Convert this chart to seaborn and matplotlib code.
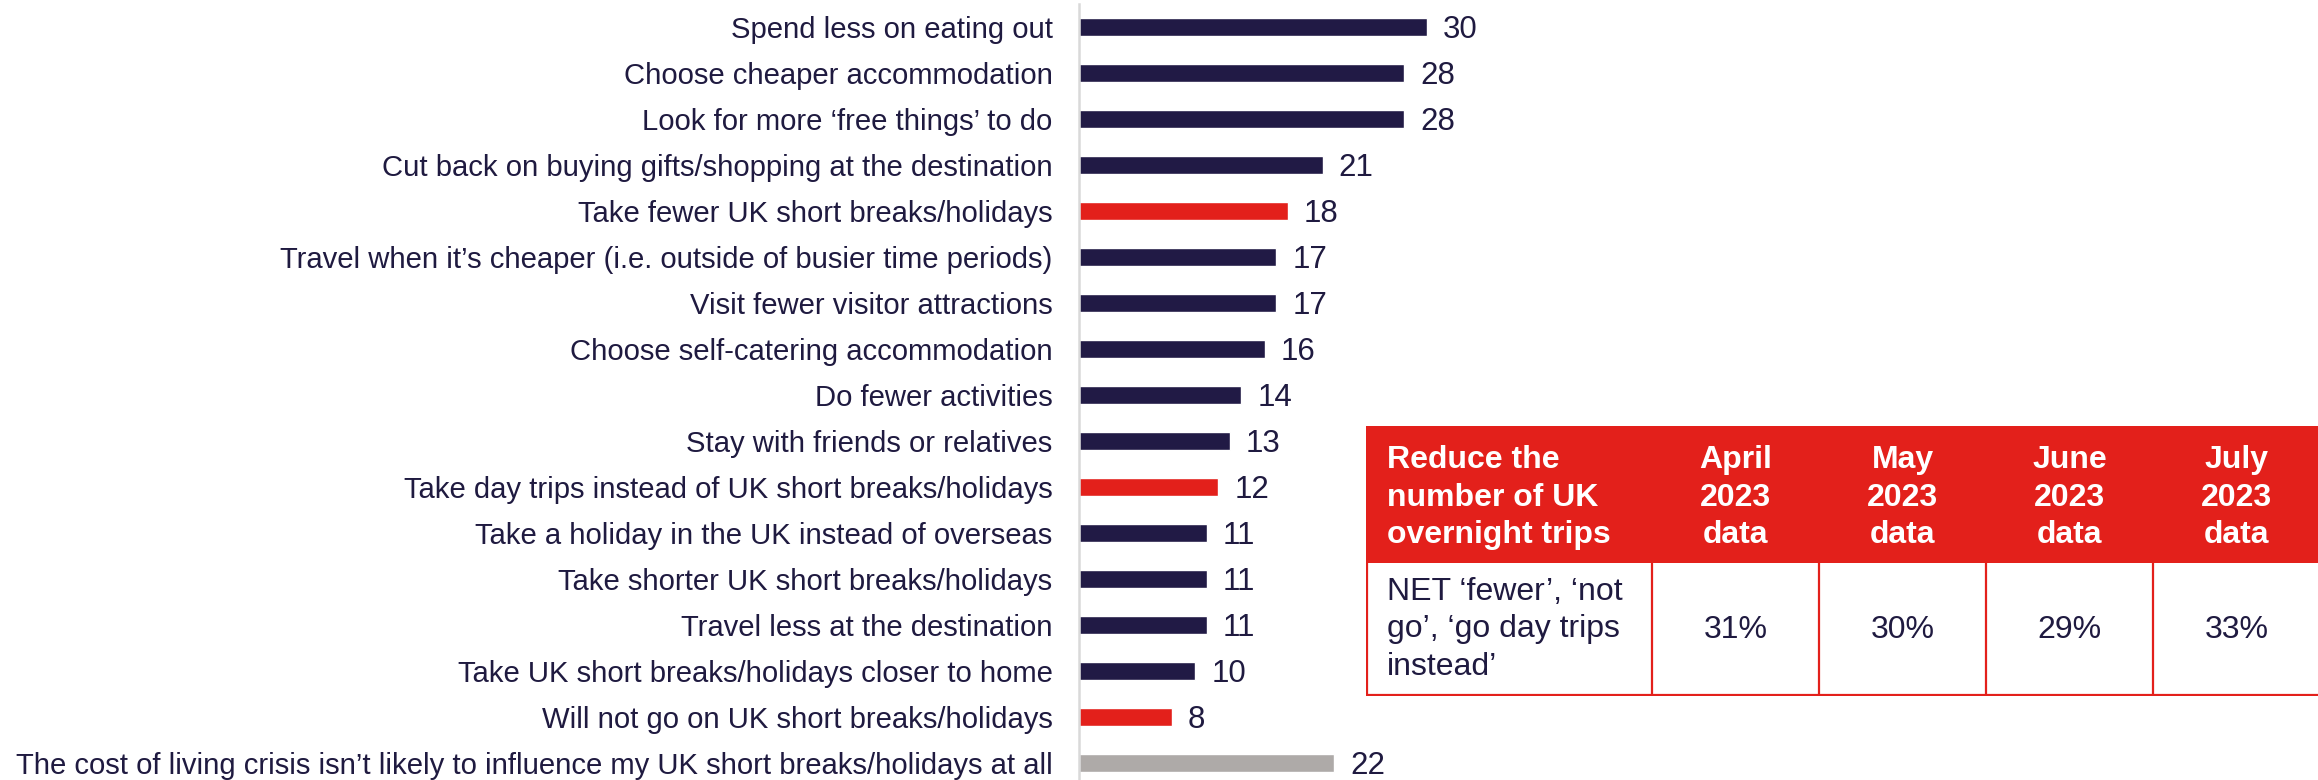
import matplotlib
matplotlib.use("Agg")
import matplotlib.pyplot as plt
import seaborn as sns
import pandas as pd
from matplotlib.patches import Rectangle

# Bar chart data (top to bottom)
categories = [
    "Spend less on eating out",
    "Choose cheaper accommodation",
    "Look for more ‘free things’ to do",
    "Cut back on buying gifts/shopping at the destination",
    "Take fewer UK short breaks/holidays",
    "Travel when it’s cheaper (i.e. outside of busier time periods)",
    "Visit fewer visitor attractions",
    "Choose self-catering accommodation",
    "Do fewer activities",
    "Stay with friends or relatives",
    "Take day trips instead of UK short breaks/holidays",
    "Take a holiday in the UK instead of overseas",
    "Take shorter UK short breaks/holidays",
    "Travel less at the destination",
    "Take UK short breaks/holidays closer to home",
    "Will not go on UK short breaks/holidays",
    "The cost of living crisis isn’t likely to influence my UK short breaks/holidays at all",
]
values = [30, 28, 28, 21, 18, 17, 17, 16, 14, 13, 12, 11, 11, 11, 10, 8, 22]
groups = ["other", "other", "other", "other", "reduce", "other", "other", "other",
          "other", "other", "reduce", "other", "other", "other", "other", "reduce", "none"]

# Table data
table_header = ["Reduce the\nnumber of UK\novernight trips",
                "April\n2023\ndata", "May\n2023\ndata", "June\n2023\ndata", "July\n2023\ndata"]
table_row_label = "NET ‘fewer’, ‘not\ngo’, ‘go day trips\ninstead’"
table_values = ["31%", "30%", "29%", "33%"]

NAVY = "#211a45"
TEXT = "#1f1a40"
RED = "#e3201b"
GREY = "#aeaaa8"
group_colors = {"other": NAVY, "reduce": RED, "none": GREY}

sns.set_style("white")
plt.rcParams["font.family"] = ["Liberation Sans", "DejaVu Sans"]

W, H = 2318, 780
fig = plt.figure(figsize=(W / 100, H / 100), dpi=100)

# bar axes, placed in pixel terms
ax = fig.add_axes([1079 / W, -6 / H, 1239 / W, 782 / H])
df = pd.DataFrame({"category": categories, "value": values, "group": groups})
sns.barplot(data=df, x="value", y="category", hue="group", palette=group_colors,
            dodge=False, legend=False, width=0.395, orient="h", ax=ax, saturation=1)

ax.set_xlim(0, 1239 / 11.6)
ax.set_ylim(len(categories) - 0.5, -0.5)
ax.set_xlabel("")
ax.set_ylabel("")
ax.set_xticks([])
ax.tick_params(axis="y", length=0, pad=19, labelsize=21.1, labelcolor=TEXT)
for s in ["top", "right", "bottom"]:
    ax.spines[s].set_visible(False)
ax.spines["left"].set_color("#d9d9d9")
ax.spines["left"].set_linewidth(1.8)

for i, v in enumerate(values):
    ax.text(v + 1.4, i + 0.07, str(v), va="center", ha="left", fontsize=22.5, color=TEXT)

# table axes
col_w = [286, 167, 167, 167, 167]
head_h, body_h = 137, 133
tx0, ty_top = 1366, 426
tab_w = sum(col_w)
tab_h = head_h + body_h
tax = fig.add_axes([tx0 / W, (H - ty_top - tab_h) / H, tab_w / W, tab_h / H])
tax.set_xlim(0, tab_w)
tax.set_ylim(0, tab_h)
tax.axis("off")

tax.add_patch(Rectangle((0, body_h), tab_w, head_h, facecolor=RED, edgecolor="none"))
tax.add_patch(Rectangle((0, 0), tab_w, body_h, facecolor="white", edgecolor="none"))

lw = 1.6
tax.plot([1, 1], [0, body_h], color=RED, lw=lw, solid_capstyle="butt")
tax.plot([0, tab_w], [1, 1], color=RED, lw=lw, solid_capstyle="butt")
x = 0
for w in col_w[:-1]:
    x += w
    tax.plot([x, x], [0, body_h], color=RED, lw=lw, solid_capstyle="butt")

ls = 1.32
x = 0
for j, w in enumerate(col_w):
    if j == 0:
        tax.text(21, body_h + head_h / 2 - 3, table_header[0], ha="left", va="center",
                 color="white", fontsize=23, fontweight="bold", linespacing=ls)
        tax.text(21, body_h / 2, table_row_label, ha="left", va="center",
                 color=TEXT, fontsize=23, linespacing=ls)
    else:
        tax.text(x + w / 2, body_h + head_h / 2 - 3, table_header[j], ha="center", va="center",
                 color="white", fontsize=23, fontweight="bold", linespacing=ls)
        tax.text(x + w / 2, body_h / 2, table_values[j - 1], ha="center", va="center",
                 color=TEXT, fontsize=23)
    x += w

fig.savefig("out.png", dpi=100)
